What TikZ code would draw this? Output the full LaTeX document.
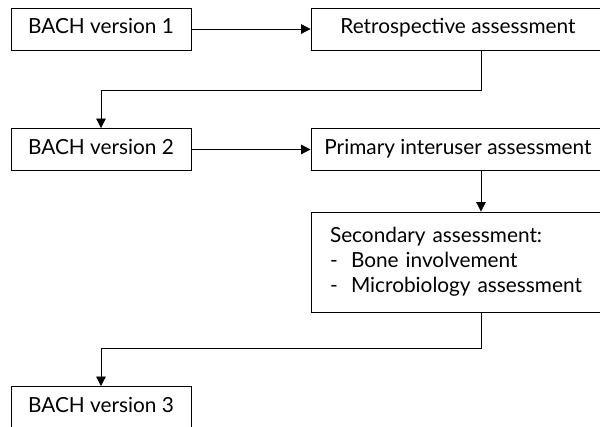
\documentclass[tikz,border=0pt]{standalone}
\usepackage{fontspec}
\setmainfont{Lato}
\usetikzlibrary{%
  arrows.meta,%
  positioning%
}
\tikzset{
  frame/.style={draw,line width=0.8pt,inner sep=0pt},
  box/.style={frame,minimum width=180pt,minimum height=42pt,
    text height=14.5pt,text depth=4.5pt},
  widebox/.style={box,minimum width=294pt},
  flow/.style={line width=0.8pt,->},
  >={Triangle[width=9.5pt,length=9.5pt]}
}

\begin{document}
\begin{tikzpicture}[x=1pt,y=1pt,font=\fontsize{20.8}{25}\selectfont]
  \useasboundingbox (0,0) rectangle (600,-427);
  \node[box] (v1) at (101,-29) {BACH version 1};
  \node[widebox] (retro) at (458,-29) {Retrospective assessment};
  \node[box] (v2) at (101,-149.5) {BACH version 2};
  \node[widebox] (primary) at (458,-149.5) {Primary interuser assessment};
  \node[frame,minimum width=294pt,minimum height=100pt,text width=256pt,
    inner xsep=19pt,align=left] (second) at (458,-262)
  {Secondary assessment:\\
   \makebox[21pt][l]{-}Bone involvement\\
   \makebox[21pt][l]{-}Microbiology assessment};
  \node[box] (v3) at (101,-407.5) {BACH version 3};
  \draw[flow] (v1) -- (retro);
  \draw[flow] ([xshift=23pt]retro.south) -- ++(0,-40) -| (v2.north);
  \draw[flow] (v2) -- (primary);
  \draw[flow] ([xshift=23pt]primary.south) -- ([xshift=23pt]second.north);
  \draw[flow] ([xshift=23pt]second.south) -- ++(0,-36) -| (v3.north);
\end{tikzpicture}
\end{document}
